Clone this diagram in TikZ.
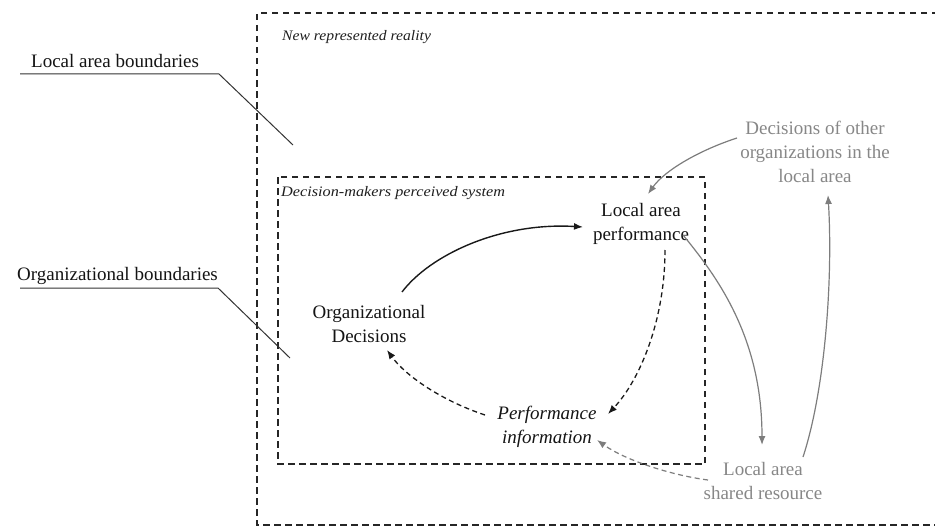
\documentclass[tikz,border=0pt]{standalone}
\usepackage{fontspec}
\setmainfont{Liberation Serif}
\usetikzlibrary{arrows.meta}
\definecolor{gtext}{RGB}{135,135,135}
\definecolor{garrow}{RGB}{125,125,125}
\begin{document}
\begin{tikzpicture}[x=1pt,y=-1pt,
  box/.style={draw=black!85, line width=1.4pt, dash pattern=on 6.5pt off 4.5pt},
  lbl/.style={font=\fontsize{19}{24}\selectfont, text=black!92, inner sep=0pt},
  var/.style={lbl, align=center},
  gvar/.style={var, text=gtext},
  ital/.style={font=\fontsize{14.5}{16}\selectfont\itshape, text=black!88, inner sep=0pt, anchor=west},
  leader/.style={draw=black!80, line width=1pt},
  blackarr/.style={draw=black!90, line width=1.4pt, -{Latex[length=9pt,width=7pt]}},
  dasharr/.style={blackarr, line width=1.3pt, dash pattern=on 5pt off 3.5pt},
  grayarr/.style={draw=garrow, line width=1.2pt, -{Latex[length=9pt,width=7pt]}},
  graydash/.style={grayarr, dash pattern=on 5pt off 3.5pt}]

\useasboundingbox (0,0) rectangle (935,527);
\clip (0,0) rectangle (935,527);

% boundary boxes
\draw[box] (960,13) -- (257,13) -- (257,525) -- (960,525);
\draw[box] (278,177) rectangle (705,464);

\node[ital] (nrr) at (282,37) {\scalebox{1.08}[1]{New represented reality}};
\node[ital] (dmp) at (281,193) {\scalebox{1.12}[1]{Decision-makers perceived system}};

% boundary labels
\node[lbl, anchor=base west] (lab) at (31,67) {Local area boundaries};
\node[lbl, anchor=base west] (orgb) at (17,280) {Organizational boundaries};
\coordinate (la1) at (20,74);
\coordinate (la2) at (219,74);
\coordinate (la3) at (293,145);
\coordinate (ob1) at (20,288);
\coordinate (ob2) at (218,288);
\coordinate (ob3) at (290,358);
\draw[leader] (la1) -- (la2) -- (la3);
\draw[leader] (ob1) -- (ob2) -- (ob3);

% variables
\node[var] (od) at (369,324) {Organizational\\Decisions};
\node[var] (lap) at (641,224) {Local area\\performance};
\node[var, font=\fontsize{19}{24}\selectfont\itshape] (pi) at (547,427) {Performance\\information};
\node[gvar] (dol) at (815,152) {Decisions of other\\organizations in the\\local area};
\node[gvar] (lsr) at (763,481) {Local area\\shared resource};

% arrows
\draw[blackarr] ([shift={(33,-32)}]od.center) .. controls +(28,-37) and +(-83,-5) .. ([shift={(-58,3)}]lap.center);
\draw[dasharr] ([shift={(24,26)}]lap.center) .. controls +(0,70) and +(32,-34) .. ([shift={(61,-13)}]pi.center);
\draw[dasharr] ([shift={(-62,-12)}]pi.center) .. controls +(-45,-15) and +(18,25) .. ([shift={(18,26)}]od.center);
\draw[grayarr] ([shift={(42,11)}]lap.center) .. controls +(37,45) and +(0,-105) .. ([shift={(-1,-36)}]lsr.center);
\draw[grayarr] ([shift={(40,-24)}]lsr.center) .. controls +(22,-67) and +(5,85) .. ([shift={(13,43)}]dol.center);
\draw[grayarr] ([shift={(-78,-14)}]dol.center) .. controls +(-37,12) and +(17,-24) .. ([shift={(7,-30)}]lap.center);
\draw[graydash] ([shift={(-55,-1)}]lsr.center) .. controls +(-38,-5) and +(28,20) .. ([shift={(50,13)}]pi.center);
\end{tikzpicture}
\end{document}
